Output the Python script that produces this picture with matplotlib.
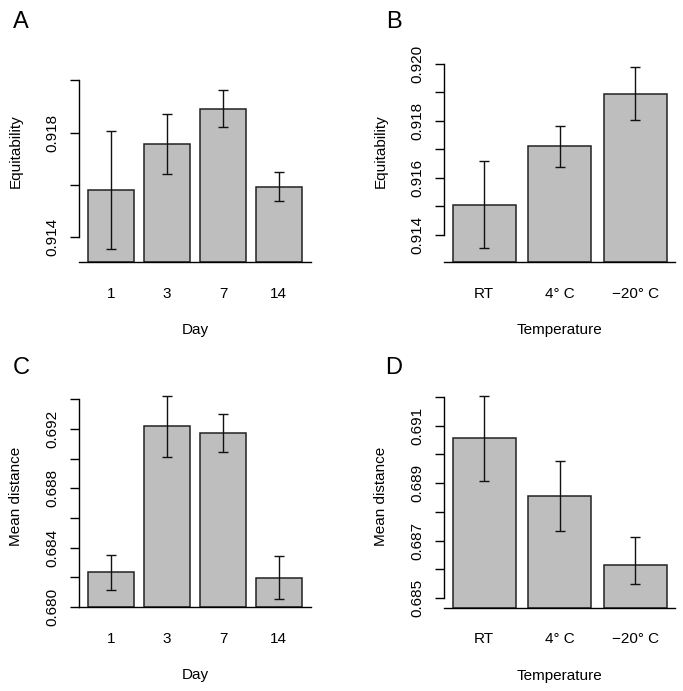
import matplotlib
matplotlib.use('Agg')
import matplotlib.pyplot as plt

plt.rcParams['font.family'] = ['Liberation Sans', 'DejaVu Sans']

# Data #
days = ['1', '3', '7', '14']
temps = ['RT', '4\u00b0 C', '\u221220\u00b0 C']

equit_day = [0.91580, 0.91756, 0.91891, 0.91591]
equit_day_lo = [0.91355, 0.91641, 0.91822, 0.91537]
equit_day_hi = [0.91805, 0.91871, 0.91962, 0.91648]

equit_temp = [0.91506, 0.91712, 0.91896]
equit_temp_lo = [0.91354, 0.91640, 0.91804]
equit_temp_hi = [0.91658, 0.91783, 0.91990]

dist_day = [0.68233, 0.69219, 0.69174, 0.68198]
dist_day_lo = [0.68112, 0.69012, 0.69044, 0.68056]
dist_day_hi = [0.68352, 0.69419, 0.69302, 0.68344]

dist_temp = [0.69056, 0.68855, 0.68615]
dist_temp_lo = [0.68908, 0.68732, 0.68548]
dist_temp_hi = [0.69202, 0.68976, 0.68714]

W, H = 683.0, 691.0
fig = plt.figure(figsize=(W / 100, H / 100), dpi=100)

def px_axes(x0, y_top, x1, y_bot):
    return fig.add_axes([x0 / W, 1 - y_bot / H, (x1 - x0) / W, (y_bot - y_top) / H])

def panel(ax, names, vals, lo, hi, ylim, ticks, labels, ylabel, xlabel):
    n = len(vals)
    xs = [0.7 + 1.2 * i for i in range(n)]
    ext = (1.2 * n - 0.2) * 0.04
    ax.set_xlim(0.2 - ext, 1.2 * n + ext)
    ax.set_ylim(*ylim)
    ax.bar(xs, [v - ylim[0] for v in vals], bottom=ylim[0], width=1.0,
           color='#bebebe', edgecolor='#222222', linewidth=1.1, zorder=2)
    err = [[v - l for v, l in zip(vals, lo)], [h - v for v, h in zip(vals, hi)]]
    ax.errorbar(xs, vals, yerr=err, fmt='none', ecolor='#111111',
                elinewidth=1.0, capsize=3.5, capthick=1.0, zorder=3)
    for s in ('top', 'right'):
        ax.spines[s].set_visible(False)
    ax.spines['left'].set_bounds(ticks[0], ticks[-1])
    ax.spines['left'].set_linewidth(1.0)
    ax.spines['bottom'].set_linewidth(1.0)
    ax.set_yticks(ticks)
    ax.set_yticklabels(labels, rotation=90, va='center', fontsize=11)
    ax.tick_params(axis='y', length=6.5, width=1.0, pad=7.5)
    ax.set_xticks(xs)
    ax.set_xticklabels(names, fontsize=11)
    ax.tick_params(axis='x', length=0, pad=17.5)
    ax.set_ylabel(ylabel, fontsize=11, labelpad=16.5)
    ax.set_xlabel(xlabel, fontsize=11, labelpad=16)

axA = px_axes(79.3, 40, 310.7, 262.3)
panel(axA, days, equit_day, equit_day_lo, equit_day_hi, (0.91304, 0.92155),
      [0.914, 0.916, 0.918, 0.920], ['0.914', '', '0.918', ''], 'Equitability', 'Day')

axB = px_axes(444.3, 40, 675.3, 262.3)
panel(axB, temps, equit_temp, equit_temp_lo, equit_temp_hi, (0.91304, 0.92084),
      [0.914, 0.915, 0.916, 0.917, 0.918, 0.919, 0.920],
      ['0.914', '', '0.916', '', '0.918', '', '0.920'], 'Equitability', 'Temperature')

axC = px_axes(79.3, 385, 310.7, 607.3)
panel(axC, days, dist_day, dist_day_lo, dist_day_hi, (0.67998, 0.69495),
      [0.680, 0.682, 0.684, 0.686, 0.688, 0.690, 0.692, 0.694],
      ['0.680', '', '0.684', '', '0.688', '', '0.692', ''], 'Mean distance', 'Day')

axD = px_axes(444.3, 385, 675.3, 608)
panel(axD, temps, dist_temp, dist_temp_lo, dist_temp_hi, (0.68466, 0.69241),
      [0.685, 0.686, 0.687, 0.688, 0.689, 0.690, 0.691, 0.692],
      ['0.685', '', '0.687', '', '0.689', '', '0.691', ''], 'Mean distance', 'Temperature')

# Panel letters #
for lab, x, y in [('A', 20.8, 28.5), ('B', 393.8, 28.5), ('C', 20.8, 373.5), ('D', 393.8, 373.5)]:
    fig.text(x / W, 1 - y / H, lab, fontsize=17, ha='center', va='baseline')

fig.savefig('out.png', dpi=100)
